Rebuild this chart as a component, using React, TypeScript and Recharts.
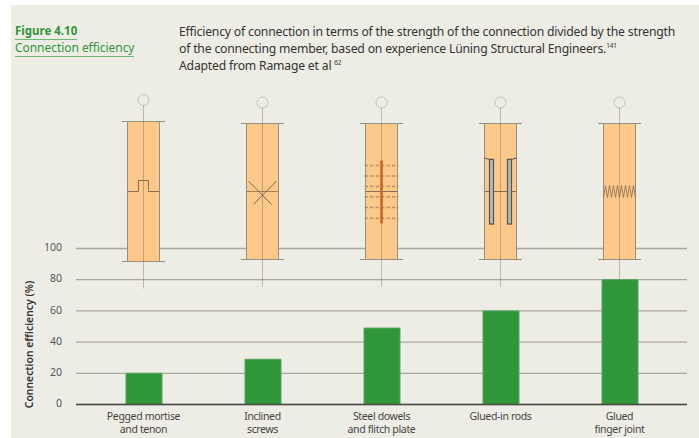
import React from "react";
import { ComposedChart, Bar, Line, XAxis, YAxis, CartesianGrid } from "recharts";

const categories = [
  "Pegged mortise\nand tenon",
  "Inclined\nscrews",
  "Steel dowels\nand flitch plate",
  "Glued-in rods",
  "Glued\nfinger joint",
];
const efficiency = [20, 29, 49, 60, 80];
const jointKinds = ["mortise", "screws", "dowels", "rods", "finger"];
const anchors = [100, 100, 100, 100, 100];
const yTicks = [0, 20, 40, 60, 80, 100];
const yLabel = "Connection efficiency (%)";
const figureNumber = "Figure 4.10";
const figureTitle = "Connection efficiency";

const data = categories.map((c, i) => ({
  category: c,
  efficiency: efficiency[i],
  anchor: anchors[i],
  kind: jointKinds[i],
}));

const FONT = "'Noto Sans', sans-serif";
const GREEN = "#2f9639";
const LINE = "#8a6f50";

function Joint({ kind, cx, mid }: { kind: string; cx: number; mid: number }) {
  if (kind === "mortise") {
    return (
      <path
        d={`M${cx - 16} ${mid}H${cx - 5}V${mid - 11}H${cx + 5}V${mid}H${cx + 16}`}
        fill="none"
        stroke={LINE}
        strokeWidth={1}
      />
    );
  }
  if (kind === "screws") {
    return (
      <g stroke="#5d5042" fill="none" strokeWidth={0.8}>
        <line x1={cx - 16} x2={cx + 16} y1={mid} y2={mid} stroke={LINE} />
        <line x1={cx - 14} y1={mid - 10.5} x2={cx + 9} y2={mid + 13} />
        <line x1={cx + 14} y1={mid - 10.5} x2={cx - 9} y2={mid + 13} />
      </g>
    );
  }
  if (kind === "dowels") {
    return (
      <g>
        <line x1={cx - 16} x2={cx + 16} y1={mid} y2={mid} stroke={LINE} />
        {[-26, -15.5, -5, 5.3, 16, 26.7].map((d) => (
          <line
            key={d}
            x1={cx - 17}
            x2={cx + 17}
            y1={mid + d}
            y2={mid + d}
            stroke="#b5946c"
            strokeWidth={1.5}
            strokeDasharray="3.5 2"
          />
        ))}
        <rect x={cx - 1.3} y={mid - 31} width={2.6} height={63} fill="#d56a1f" />
      </g>
    );
  }
  if (kind === "rods") {
    return (
      <g>
        <line x1={cx - 16} x2={cx + 16} y1={mid} y2={mid} stroke={LINE} />
        <path d={`M${cx - 16} ${mid - 33.5}Q${cx - 13} ${mid - 32} ${cx - 7} ${mid - 32}`} fill="none" stroke="#555" strokeWidth={1} />
        <path d={`M${cx + 16} ${mid - 33.5}Q${cx + 13} ${mid - 32} ${cx + 7} ${mid - 32}`} fill="none" stroke="#555" strokeWidth={1} />
        <rect x={cx - 11} y={mid - 32} width={4} height={64.5} fill="#b9b9b6" stroke="#555" strokeWidth={1.2} />
        <rect x={cx + 7} y={mid - 32} width={4} height={64.5} fill="#b9b9b6" stroke="#555" strokeWidth={1.2} />
      </g>
    );
  }
  const peaks = 8;
  const step = 32 / (peaks * 2);
  let d = `M${cx - 16} ${mid + 6}`;
  for (let i = 1; i <= peaks * 2; i++) {
    d += `L${cx - 16 + i * step} ${i % 2 ? mid - 6 : mid + 6}`;
  }
  return <path d={d} fill="none" stroke={LINE} strokeWidth={0.8} />;
}

function Diagram({ cx, cy, kind }: { cx: number; cy: number; kind: string }) {
  const isFirst = kind === "mortise";
  const top = cy - (isFirst ? 127 : 125);
  const bottom = cy + (isFirst ? 13 : 11);
  const circleY = cy - (isFirst ? 148.5 : 146);
  const stemEnd = cy + (isFirst ? 40 : 38);
  const mid = cy - 57;
  return (
    <g>
      <rect x={cx - 16} y={top} width={32} height={bottom - top} fill="#fdc98a" stroke="#96907f" strokeWidth={1} />
      <line x1={cx - 21.5} x2={cx + 21.5} y1={top} y2={top} stroke="#96907f" />
      <line x1={cx - 21.5} x2={cx + 21.5} y1={bottom} y2={bottom} stroke="#96907f" />
      <Joint kind={kind} cx={cx} mid={mid} />
      <circle cx={cx} cy={circleY} r={5.5} fill="none" stroke="#c4c3bb" strokeWidth={1} />
      <line x1={cx} x2={cx} y1={circleY + 5.5} y2={stemEnd} stroke="rgba(110,105,95,0.4)" strokeWidth={1} />
    </g>
  );
}

function CategoryTick({ x, y, payload }: any) {
  const lines = String(payload.value).split("\n");
  return (
    <text x={x} y={y} textAnchor="middle" fontFamily={FONT} fontSize={10.5} letterSpacing={-0.35} fill="#444">
      {lines.map((l, i) => (
        <tspan key={i} x={x} y={y + 7.8 + i * 12.8}>
          {l}
        </tspan>
      ))}
    </text>
  );
}

const headerLine: React.CSSProperties = {
  position: "absolute",
  left: 179,
  fontFamily: FONT,
  fontSize: 12.2,
  letterSpacing: -0.19,
  lineHeight: "17px",
  color: "#333",
  whiteSpace: "nowrap",
};

export default function App() {
  return (
    <div style={{ position: "fixed", left: 0, top: 0, width: 699, height: 438, background: "#fff", overflow: "hidden" }}>
      <div style={{ position: "absolute", left: 11, top: 5, width: 688, height: 433, background: "#eeede5" }} />
      <div style={{ position: "absolute", left: 15, top: 23, fontFamily: FONT, fontSize: 11.5, lineHeight: "16px", fontWeight: 700, color: GREEN, borderBottom: "1px solid #6db574" }}>
        {figureNumber}
      </div>
      <div style={{ position: "absolute", left: 15, top: 40, fontFamily: FONT, fontSize: 12, letterSpacing: -0.05, lineHeight: "16px", color: GREEN, borderBottom: "1px solid #6db574" }}>
        {figureTitle}
      </div>
      <div style={{ ...headerLine, top: 23 }}>
        Efficiency of connection in terms of the strength of the connection divided by the strength
      </div>
      <div style={{ ...headerLine, top: 40 }}>
        of the connecting member, based on experience Lüning Structural Engineers.<sup style={{ fontSize: 6.5, lineHeight: 0 }}>141</sup>
      </div>
      <div style={{ ...headerLine, top: 57 }}>
        Adapted from Ramage et al <sup style={{ fontSize: 6.5, lineHeight: 0 }}>62</sup>
      </div>
      <ComposedChart
        width={699}
        height={438}
        data={data}
        margin={{ top: 248.5, right: 12, bottom: 3.5, left: 12 }}
        style={{ position: "absolute", left: 0, top: 0 }}
      >
        <CartesianGrid vertical={false} stroke="#a9a89f" strokeWidth={1.3} />
        <XAxis
          dataKey="category"
          interval={0}
          height={30}
          padding={{ left: 8, right: 8 }}
          tickLine={false}
          axisLine={{ stroke: "#4a4a45", strokeWidth: 1.3 }}
          tick={<CategoryTick />}
        />
        <YAxis
          type="number"
          domain={[0, 100]}
          ticks={yTicks}
          width={64}
          tickLine={false}
          axisLine={false}
          tickSize={0}
          tickMargin={14}
          tick={{ fontFamily: FONT, fontSize: 10.5, fill: "#555", dy: -1 }}
          label={(props: any) => {
            const vb = props.viewBox;
            const x = vb.x + 21;
            const y = vb.y + vb.height / 2 + 18;
            return (
              <text x={x} y={y} transform={`rotate(-90 ${x} ${y})`} textAnchor="middle" fontFamily={FONT} fontSize={10.4} fontWeight={600} fill="#333">
                {yLabel}
              </text>
            );
          }}
        />
        <Bar dataKey="efficiency" barSize={36} fill={GREEN} stroke="#55a860" strokeWidth={1} isAnimationActive={false} />
        <Line
          dataKey="anchor"
          stroke="none"
          isAnimationActive={false}
          legendType="none"
          dot={(p: any) => <Diagram key={p.index} cx={p.cx} cy={p.cy} kind={p.payload.kind} />}
          activeDot={false}
        />
      </ComposedChart>
    </div>
  );
}
